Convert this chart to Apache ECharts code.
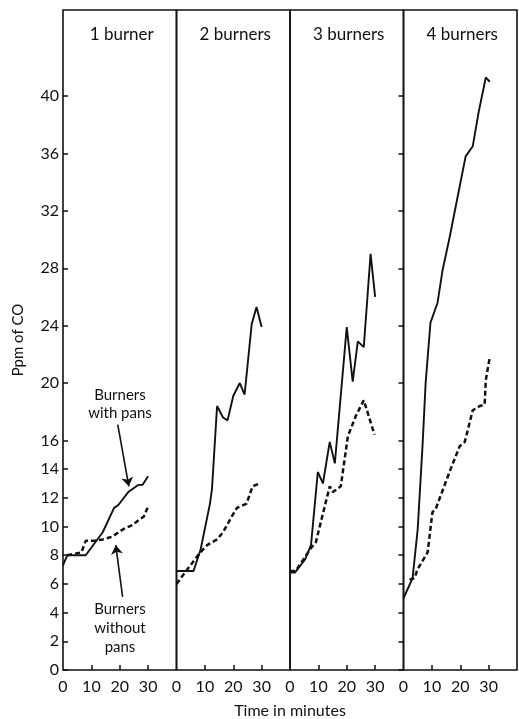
<!DOCTYPE html>
<html>
<head>
<meta charset="utf-8">
<script src="https://cdn.jsdelivr.net/npm/echarts@6/dist/echarts.min.js"></script>
<style>
  html, body { margin: 0; padding: 0; background: #fff; }
  #main { width: 519px; height: 719px; }
</style>
</head>
<body>
<div id="main"></div>
<script>
// CO concentration in a kitchen, by number of gas burners lit
var panelTitles = ['1 burner', '2 burners', '3 burners', '4 burners'];

// [minutes, ppm]  solid = burners with pans, dashed = burners without pans
var withPans1 = [[0, 7.3], [1.5, 8], [8, 8], [14, 9.6], [18, 11.3], [19.5, 11.5], [23, 12.4], [26.5, 12.9], [28, 12.9], [30, 13.5]];
var withoutPans1 = [[1.5, 8], [6.5, 8.2], [8, 9.0], [10.5, 9.0], [14, 9.1], [17.5, 9.3], [19.5, 9.6], [22, 9.9], [24.5, 10.1], [27, 10.5], [28.5, 10.7], [30, 11.4]];

var withPans2 = [[0, 6.9], [6, 6.9], [8.5, 8.4], [11.8, 11.6], [12.5, 12.6], [14.3, 18.4], [16.4, 17.6], [18, 17.4], [20, 19.1], [22.3, 20.0], [24, 19.2], [26.5, 24.1], [28.2, 25.3], [30, 23.9]];
var withoutPans2 = [[0, 6.0], [3, 6.8], [8.4, 8.2], [10.8, 8.7], [14.3, 9.1], [16.4, 9.6], [19.5, 10.7], [21.3, 11.3], [24.7, 11.6], [26.8, 12.8], [29.3, 13.0]];

var withPans3 = [[0, 6.8], [1.8, 6.8], [5.3, 7.7], [7.4, 8.7], [9.8, 13.8], [11.6, 13.0], [14, 15.9], [15.8, 14.4], [20, 23.9], [22.1, 20.1], [23.9, 22.9], [26, 22.5], [28.4, 29.0], [30, 26.0]];
var withoutPans3 = [[0, 6.9], [2, 6.9], [7.4, 8.5], [9.1, 8.9], [14, 12.8], [15.1, 12.4], [17.9, 12.8], [20.4, 16.3], [23.2, 17.7], [26, 18.8], [29.8, 16.4]];

var withPans4 = [[0, 5.0], [3.2, 6.4], [5, 9.8], [6.7, 15.6], [7.8, 20.0], [9.5, 24.2], [12, 25.6], [13.8, 27.9], [16.3, 30.2], [19.1, 33.0], [21.9, 35.8], [24.4, 36.5], [26.5, 38.9], [29, 41.3], [30.4, 41.0]];
var withoutPans4 = [[2.1, 6.3], [3.9, 6.4], [4.9, 7.0], [8.5, 8.2], [10.2, 11.0], [11.3, 11.2], [16.6, 14.0], [19.8, 15.6], [21.6, 15.9], [24.4, 18.1], [26.9, 18.4], [28.6, 18.5], [29, 20.2], [30.4, 21.8]];

var yTickValues = [0, 2, 4, 6, 8, 10, 12, 14, 16, 20, 24, 28, 32, 36, 40];
var xTickLabels = [0, 10, 20, 30];

// pointer arrows in panel 1, in data units
var arrowWithPans = [[19.3, 17.1], [23.2, 12.8]];
var arrowWithoutPans = [[21, 5.1], [18.6, 8.7]];

var solidSets = [withPans1, withPans2, withPans3, withPans4];
var dashedSets = [withoutPans1, withoutPans2, withoutPans3, withoutPans4];

var font = 'Lato';
var ink = '#111';
var panelLeft = 63;
var panelWidth = 113.5;

var chart = echarts.init(document.getElementById('main'));

var grids = [], xAxes = [], yAxes = [], series = [], texts = [];

for (var i = 0; i < 4; i++) {
  var left = panelLeft + i * panelWidth;
  grids.push({
    left: left, top: 10, width: panelWidth, height: 660,
    show: true, borderColor: ink, borderWidth: 1.6
  });
  xAxes.push({
    gridIndex: i, type: 'value', min: 0, max: 40,
    axisLine: { show: false },
    splitLine: { show: false },
    axisTick: { inside: true, length: 5, customValues: [10, 20, 30], lineStyle: { color: ink, width: 1.5 } },
    axisLabel: { customValues: xTickLabels, fontSize: 16, color: ink, fontFamily: font, margin: 9 }
  });
  var ya = {
    gridIndex: i, type: 'value', min: 0, max: 46,
    axisLine: { show: false },
    splitLine: { show: false },
    axisTick: { show: false },
    axisLabel: { show: false }
  };
  if (i == 0) {
    ya.axisTick = { show: true, inside: true, length: 5, customValues: yTickValues, lineStyle: { color: ink, width: 1.5 } };
    ya.axisLabel = { show: true, customValues: yTickValues, fontSize: 16, color: ink, fontFamily: font, margin: 4 };
  }
  if (i == 3) {
    ya.position = 'right';
    ya.axisTick = { show: true, inside: true, length: 5, customValues: yTickValues, lineStyle: { color: ink, width: 1.5 } };
  }
  yAxes.push(ya);

  var solid = {
    type: 'line', xAxisIndex: i, yAxisIndex: i,
    data: solidSets[i], showSymbol: false, smooth: false,
    lineStyle: { color: ink, width: 1.9 }
  };
  if (i == 0) {
    solid.markLine = {
      silent: true,
      symbol: ['none', 'arrow'],
      symbolSize: 9,
      label: { show: false },
      lineStyle: { color: ink, width: 1.6, type: 'solid' },
      data: [
        [{ coord: arrowWithPans[0] }, { coord: arrowWithPans[1] }],
        [{ coord: arrowWithoutPans[0] }, { coord: arrowWithoutPans[1] }]
      ]
    };
  }
  series.push(solid);
  series.push({
    type: 'line', xAxisIndex: i, yAxisIndex: i,
    data: dashedSets[i], showSymbol: false, smooth: false,
    lineStyle: { color: ink, width: 2.5, type: [5, 3] }
  });

  texts.push({
    type: 'text', x: left + panelWidth / 2 + 2, y: 35,
    style: { text: panelTitles[i], fontSize: 17, fontFamily: font, fill: ink, textAlign: 'center', textVerticalAlign: 'middle' }
  });
}

texts.push({
  type: 'text', x: 120, y: 404,
  style: { text: 'Burners\nwith pans', fontSize: 15, lineHeight: 18, fontFamily: font, fill: ink, textAlign: 'center', textVerticalAlign: 'middle' }
});
texts.push({
  type: 'text', x: 120, y: 628,
  style: { text: 'Burners\nwithout\npans', fontSize: 15, lineHeight: 19, fontFamily: font, fill: ink, textAlign: 'center', textVerticalAlign: 'middle' }
});
texts.push({
  type: 'text', x: 290, y: 711,
  style: { text: 'Time in minutes', fontSize: 16, fontFamily: font, fill: ink, textAlign: 'center', textVerticalAlign: 'middle' }
});
texts.push({
  type: 'text', x: 18, y: 340, rotation: Math.PI / 2,
  style: { text: 'Ppm of CO', fontSize: 15, fontFamily: font, fill: ink, textAlign: 'center', textVerticalAlign: 'middle' }
});

chart.setOption({
  animation: false,
  backgroundColor: '#fff',
  grid: grids,
  xAxis: xAxes,
  yAxis: yAxes,
  series: series,
  graphic: texts
});
</script>
</body>
</html>
